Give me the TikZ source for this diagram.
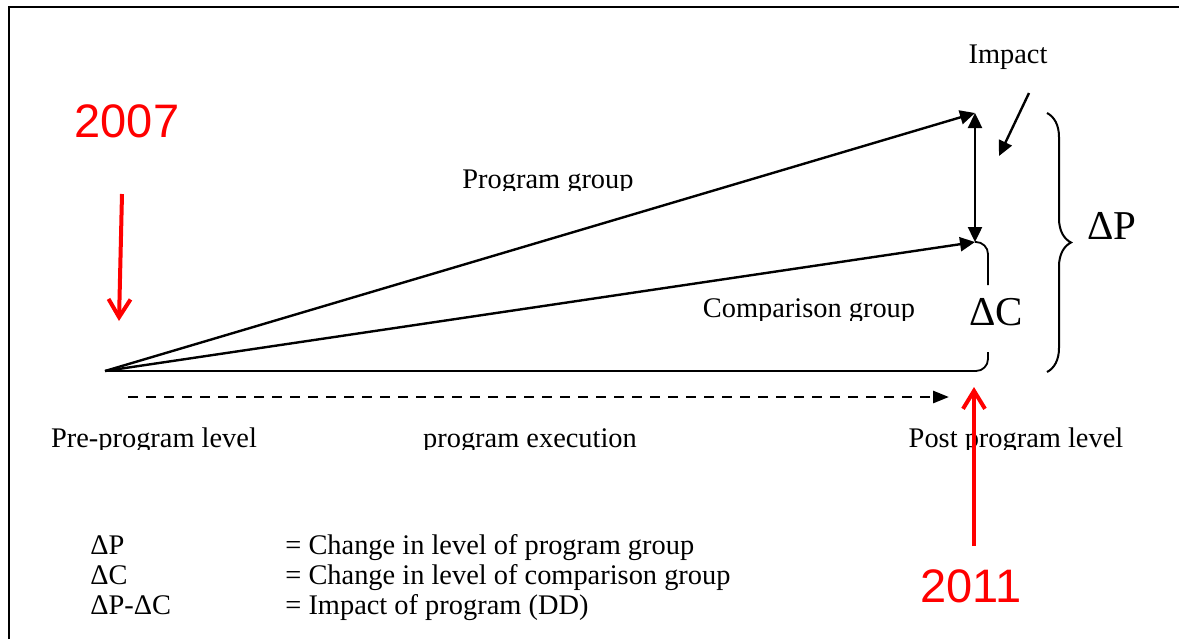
\documentclass[tikz,border=0pt]{standalone}
\usepackage{fontspec}
\setmainfont{Liberation Serif}
\newfontfamily\yearfont{Liberation Sans}
\usetikzlibrary{arrows.meta,decorations.pathreplacing}
\tikzset{
  txt/.style={font=\fontsize{14.2}{16}\selectfont, inner sep=0pt, anchor=base},
  bigtxt/.style={font=\fontsize{20.5}{24}\selectfont, inner sep=0pt, anchor=base},
  year/.style={font=\yearfont\fontsize{23.5}{28}\selectfont, text=red, inner sep=0pt},
  redarrow/.style={red, line width=2pt, -{Straight Barb[length=9pt,width=11pt]}},
  grparrow/.style={line width=1.2pt, -{Triangle[length=7.5pt,width=7pt]}},
}
\begin{document}
\begin{tikzpicture}[x=0.5pt,y=-0.5pt]
\useasboundingbox (0,0) rectangle (1179,639);
\draw[line width=1.2pt] (9,639) -- (9,7) -- (1179,7);
\coordinate (start) at (105,371);
\coordinate (prog) at (975,113);
\coordinate (comp) at (975,242);
\draw[grparrow] (start) -- (prog);
\draw[grparrow] (start) -- (comp);
\draw[line width=1.2pt, {Triangle[length=7.5pt,width=7pt]}-{Triangle[length=7.5pt,width=7pt]}] (prog) -- (comp);
\node[bigtxt] (dc) at (996,325) {ΔC};
\draw[line width=0.9pt, rounded corners=6pt] (start) -- (988,371) -- (988,352);
\draw[line width=0.9pt, rounded corners=6pt] (988,285) -- (988,242) -- (comp);
\draw[line width=1pt, decorate, decoration={brace, amplitude=12pt}] (1047,113) -- (1047,372);
\node[bigtxt] (dp) at (1112,239) {ΔP};
\node[txt] (impact) at (1008,63) {Impact};
\coordinate (impA) at (1029,93);
\coordinate (impB) at (999,156);
\draw[grparrow] (impA) -- (impB);
\begin{scope}
\clip (0,0) rectangle (1179,190);
\node[txt] (pg) at (548,188) {Program group};
\end{scope}
\begin{scope}
\clip (0,200) rectangle (1179,320);
\node[txt] (cg) at (809,317) {Comparison group};
\end{scope}
\coordinate (runA) at (128,397);
\coordinate (runB) at (949,397);
\draw[line width=1.4pt, dash pattern=on 5pt off 4pt, -{Triangle[length=8pt,width=6pt]}] (runA) -- (runB);
\begin{scope}
\clip (0,400) rectangle (1179,449);
\node[txt] (pre) at (154,447) {Pre-program level};
\node[txt] (exe) at (530,447) {program execution};
\node[txt] (post) at (1016,447) {Post program level};
\end{scope}
\node[txt, anchor=base west] (lp) at (90,554) {ΔP};
\node[txt, anchor=base west] (lc) at (90,584) {ΔC};
\node[txt, anchor=base west] (ld) at (90,614) {ΔP-ΔC};
\node[txt, anchor=base west] (lpt) at (285,554) {= Change in level of program group};
\node[txt, anchor=base west] (lct) at (285,584) {= Change in level of comparison group};
\node[txt, anchor=base west] (ldt) at (285,614) {= Impact of program (DD)};
\node[year] (y07) at (127,121) {2007};
\coordinate (y07a) at (122,194);
\coordinate (y07b) at (119,321);
\draw[redarrow] (y07a) -- (y07b);
\node[year] (y11) at (971,586) {2011};
\coordinate (y11a) at (974,546);
\coordinate (y11b) at (974,387);
\draw[redarrow] (y11a) -- (y11b);
\end{tikzpicture}
\end{document}
